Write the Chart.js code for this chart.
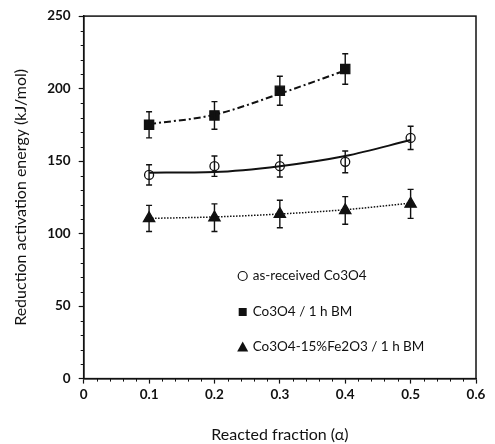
<!DOCTYPE html>
<html>
<head>
<meta charset="utf-8">
<script src="https://cdn.jsdelivr.net/npm/chart.js@4/dist/chart.umd.min.js"></script>
<style>
  html, body { margin: 0; padding: 0; background: #fff; }
  #wrap { width: 495px; height: 444px; }
</style>
</head>
<body>
<div id="wrap"><canvas id="chart" width="495" height="444"></canvas></div>
<script>
// reacted fraction (alpha) and activation energies in kJ/mol
const alpha = [0.1, 0.2, 0.3, 0.4, 0.5];
const asReceived = [140.5, 146.5, 146.5, 149.5, 166];
const asReceivedErr = [7, 7, 7.5, 7.5, 8];
const milled = [175, 181.5, 198.5, 213.5];
const milledErr = [9, 9.5, 10, 10.5];
const feDoped = [110.5, 111, 113.5, 116, 120.5];
const feDopedErr = [9, 9.5, 9.5, 9.5, 10];

// polynomial trend lines
const asReceivedFit = [142, 142.5, 146.5, 153.5, 164.5];
const milledFit = [175.5, 182, 196.5, 212.5];
const feDopedFit = [110.5, 111.5, 113.5, 116.5, 121];

const labels = ['as-received Co3O4', 'Co3O4 / 1 h BM', 'Co3O4-15%Fe2O3 / 1 h BM'];

const pts = (xs, ys) => ys.map((y, i) => ({ x: xs[i], y }));
const ink = '#111';

function fitLine(data, dash, width) {
  return {
    data: pts(alpha, data),
    showLine: true,
    borderColor: ink,
    borderWidth: width,
    borderDash: dash,
    pointRadius: 0,
    cubicInterpolationMode: 'monotone',
    isFit: true
  };
}

function markers(label, data, err, style, radius, fill) {
  return {
    label,
    data: pts(alpha, data),
    err,
    showLine: false,
    pointStyle: style,
    pointRadius: radius,
    pointBackgroundColor: fill,
    pointBorderColor: ink,
    pointBorderWidth: 1.3,
    backgroundColor: fill,
    borderColor: ink
  };
}

// error bars with small caps
const errorBars = {
  id: 'errorBars',
  afterDatasetsDraw(chart) {
    const { ctx, scales: { x, y } } = chart;
    ctx.save();
    ctx.strokeStyle = ink;
    ctx.lineWidth = 1.4;
    chart.data.datasets.forEach(ds => {
      if (!ds.err) return;
      ds.data.forEach((p, i) => {
        const px = x.getPixelForValue(p.x);
        const top = y.getPixelForValue(p.y + ds.err[i]);
        const bot = y.getPixelForValue(p.y - ds.err[i]);
        ctx.beginPath();
        ctx.moveTo(px, top); ctx.lineTo(px, bot);
        ctx.moveTo(px - 3, top); ctx.lineTo(px + 3, top);
        ctx.moveTo(px - 3, bot); ctx.lineTo(px + 3, bot);
        ctx.stroke();
      });
    });
    ctx.restore();
  }
};

// box frame plus minor tick marks
const frame = {
  id: 'frame',
  afterDraw(chart) {
    const { ctx, chartArea: a, scales: { x, y } } = chart;
    ctx.save();
    ctx.strokeStyle = ink;
    ctx.lineWidth = 1.5;
    ctx.strokeRect(a.left, a.top, a.right - a.left, a.bottom - a.top);
    ctx.lineWidth = 1;
    ctx.beginPath();
    for (let v = 10; v < 250; v += 10) {
      if (v % 50 === 0) continue;
      const py = Math.round(y.getPixelForValue(v)) + 0.5;
      ctx.moveTo(a.left - 3, py); ctx.lineTo(a.left, py);
    }
    for (let k = 1; k < 30; k++) {
      if (k % 5 === 0) continue;
      const px = Math.round(x.getPixelForValue(k * 0.02)) + 0.5;
      ctx.moveTo(px, a.bottom); ctx.lineTo(px, a.bottom + 3);
    }
    ctx.stroke();
    ctx.restore();
  }
};

// legend inside the plot area
const innerLegend = {
  id: 'innerLegend',
  afterDraw(chart) {
    const { ctx, chartArea: a } = chart;
    const rows = [276, 312, 347];
    ctx.save();
    ctx.font = '13.5px Lato';
    ctx.fillStyle = ink;
    ctx.textBaseline = 'middle';
    let r = 0;
    chart.data.datasets.forEach(ds => {
      if (ds.isFit) return;
      const cy = rows[r++];
      const cx = a.left + 159;
      ctx.lineWidth = 1.2;
      ctx.strokeStyle = ink;
      ctx.beginPath();
      if (ds.pointStyle === 'circle') {
        ctx.arc(cx, cy, 4.5, 0, Math.PI * 2);
        ctx.stroke();
      } else if (ds.pointStyle === 'rect') {
        ctx.fillRect(cx - 4, cy - 4, 8, 8);
      } else {
        ctx.moveTo(cx, cy - 5.5);
        ctx.lineTo(cx + 5.5, cy + 4.5);
        ctx.lineTo(cx - 5.5, cy + 4.5);
        ctx.closePath();
        ctx.fill();
      }
      ctx.fillText(ds.label, cx + 10, cy);
    });
    ctx.restore();
  }
};

const tickFont = { family: 'Lato', size: 13.5, weight: 'bold' };
const titleFont = { family: 'Lato', size: 16 };

new Chart(document.getElementById('chart'), {
  type: 'scatter',
  data: {
    datasets: [
      fitLine(asReceivedFit, [], 2),
      { ...fitLine(milledFit, [7, 3, 2, 3], 2), data: pts(alpha, milledFit) },
      fitLine(feDopedFit, [1.5, 1.5], 1.5),
      markers(labels[0], asReceived, asReceivedErr, 'circle', 4.5, 'rgba(255,255,255,0)'),
      markers(labels[1], milled, milledErr, 'rect', 6.5, ink),
      markers(labels[2], feDoped, feDopedErr, 'triangle', 6.5, ink)
    ]
  },
  options: {
    responsive: false,
    animation: false,
    layout: { padding: { left: 11, right: 19, top: 16, bottom: 0 } },
    plugins: { legend: { display: false }, tooltip: { enabled: false } },
    scales: {
      x: {
        type: 'linear',
        min: 0, max: 0.6,
        ticks: { stepSize: 0.1, color: ink, font: tickFont, padding: 3 },
        grid: { drawOnChartArea: false, tickLength: 5, color: ink, tickWidth: 1.2 },
        border: { display: true, color: ink, width: 1.5 },
        title: { display: true, text: 'Reacted fraction (α)', color: ink, font: titleFont, padding: { top: 19, bottom: 0 } }
      },
      y: {
        min: 0, max: 250,
        ticks: { stepSize: 50, color: ink, font: tickFont, padding: 8 },
        grid: { drawOnChartArea: false, tickLength: 5, color: ink, tickWidth: 1.2 },
        border: { display: true, color: ink, width: 1.5 },
        title: { display: true, text: 'Reduction activation energy (kJ/mol)', color: ink, font: titleFont, padding: { top: 0, bottom: 9 } }
      }
    }
  },
  plugins: [errorBars, frame, innerLegend]
});
</script>
</body>
</html>
